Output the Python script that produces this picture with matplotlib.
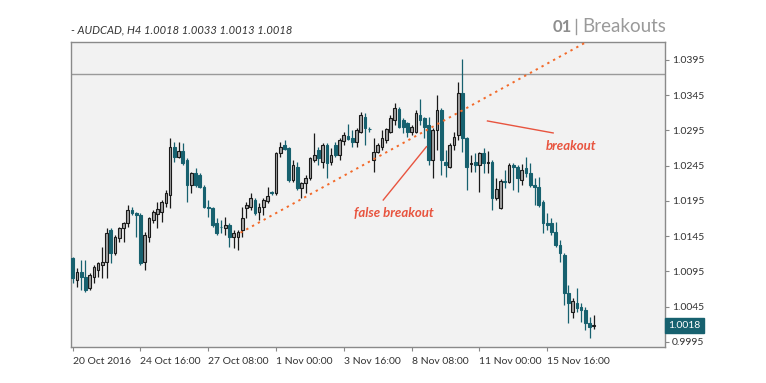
import numpy as np
import matplotlib.pyplot as plt
from matplotlib.lines import Line2D
import matplotlib.transforms as mtransforms

# H4 candles, 20 Oct 2016 onward
opens = [1.01137, 1.00830, 1.00948, 1.00877, 1.00711, 1.00877, 1.00971, 1.01042, 1.01090, 1.01539,
         1.01208, 1.01421, 1.01562, 1.01633, 1.01822, 1.01785, 1.01751, 1.01090, 1.01444, 1.01681,
         1.01761, 1.01799, 1.01917, 1.02035, 1.02721, 1.02579, 1.02664, 1.02532, 1.02177, 1.02343,
         1.02319, 1.02153, 1.01870, 1.01846, 1.01633, 1.01586, 1.01562, 1.01610, 1.01444, 1.01444,
         1.01539, 1.01846, 1.01870, 1.01964, 1.01799, 1.01870, 1.01955, 1.02075, 1.02059, 1.02626,
         1.02744, 1.02697, 1.02248, 1.02437, 1.02130, 1.02201, 1.02272, 1.02532, 1.02673, 1.02508,
         1.02744, 1.02508, 1.02744, 1.02603, 1.02806, 1.02872, 1.02839, 1.02792, 1.02934, 1.03146,
         1.02976, 1.02532, 1.02650, 1.02721, 1.02815, 1.02934, 1.03099, 1.03250, 1.03099, 1.03052,
         1.02934, 1.02934, 1.03170, 1.03123, 1.03028, 1.02532, 1.02957, 1.03241, 1.02508, 1.02437,
         1.02744, 1.02886, 1.03477, 1.02839, 1.02475, 1.02508, 1.02461, 1.02636, 1.02494, 1.02508,
         1.01988, 1.01846, 1.02238, 1.02224, 1.02461, 1.02437, 1.02248, 1.02413, 1.02342, 1.02177,
         1.02153, 1.01941, 1.01633, 1.01633, 1.01515, 1.01326, 1.01184, 1.00641, 1.00380, 1.00498,
         1.00451, 1.00404, 1.00215, 1.00180]
highs = [1.01160, 1.00995, 1.01113, 1.01113, 1.00924, 1.01042, 1.01090, 1.01302, 1.01562, 1.01562,
         1.01468, 1.01586, 1.01657, 1.01893, 1.01870, 1.01799, 1.01775, 1.01515, 1.01728, 1.01822,
         1.01941, 1.01964, 1.02106, 1.02839, 1.02792, 1.02792, 1.02768, 1.02555, 1.02366, 1.02413,
         1.02343, 1.02177, 1.01964, 1.01870, 1.01704, 1.01681, 1.01728, 1.01633, 1.01539, 1.01539,
         1.01870, 1.01941, 1.02059, 1.01988, 1.01917, 1.01988, 1.02153, 1.02097, 1.02650, 1.02792,
         1.02815, 1.02721, 1.02532, 1.02508, 1.02224, 1.02319, 1.02579, 1.02910, 1.02721, 1.02768,
         1.02768, 1.02697, 1.02792, 1.02839, 1.02934, 1.03042, 1.02957, 1.02981, 1.03217, 1.03194,
         1.03005, 1.02839, 1.02768, 1.02957, 1.02981, 1.03170, 1.03335, 1.03288, 1.03123, 1.03075,
         1.03028, 1.03241, 1.03392, 1.03146, 1.03146, 1.02981, 1.03454, 1.03264, 1.02673, 1.02768,
         1.02934, 1.03643, 1.03959, 1.02863, 1.02603, 1.02626, 1.02650, 1.02697, 1.02664, 1.02532,
         1.02272, 1.02257, 1.02390, 1.02484, 1.02494, 1.02461, 1.02470, 1.02579, 1.02484, 1.02272,
         1.02295, 1.01964, 1.01775, 1.01704, 1.01657, 1.01397, 1.01208, 1.00759, 1.00570, 1.00712,
         1.00498, 1.00451, 1.00309, 1.00330]
lows = [1.00782, 1.00735, 1.00688, 1.00664, 1.00688, 1.00782, 1.00877, 1.00853, 1.00853, 1.01066,
        1.01184, 1.01373, 1.01373, 1.01586, 1.01751, 1.01444, 1.01042, 1.00971, 1.01373, 1.01633,
        1.01562, 1.01657, 1.01870, 1.01846, 1.02508, 1.02555, 1.02461, 1.01941, 1.02059, 1.02153,
        1.02130, 1.01846, 1.01728, 1.01586, 1.01468, 1.01492, 1.01468, 1.01303, 1.01279, 1.01255,
        1.01444, 1.01704, 1.01822, 1.01752, 1.01681, 1.01752, 1.01917, 1.02035, 1.02035, 1.02579,
        1.02673, 1.02224, 1.02224, 1.02106, 1.01988, 1.02059, 1.02248, 1.02508, 1.02461, 1.02414,
        1.02272, 1.02461, 1.02579, 1.02532, 1.02744, 1.02815, 1.02721, 1.02721, 1.02910, 1.02744,
        1.02934, 1.02366, 1.02626, 1.02673, 1.02768, 1.02919, 1.03028, 1.02981, 1.02910, 1.02863,
        1.02886, 1.02910, 1.03028, 1.02839, 1.02461, 1.02272, 1.02673, 1.02319, 1.02295, 1.02413,
        1.02673, 1.02815, 1.02650, 1.02106, 1.02366, 1.02366, 1.02082, 1.02342, 1.02342, 1.01822,
        1.01964, 1.01832, 1.02130, 1.02201, 1.02106, 1.02082, 1.02177, 1.02295, 1.02153, 1.01893,
        1.01870, 1.01492, 1.01539, 1.01468, 1.01302, 1.01090, 1.00475, 1.00215, 1.00286, 1.00380,
        1.00238, 1.00120, 1.00002, 1.00130]
closes = [1.00853, 1.00948, 1.00877, 1.00688, 1.00900, 1.01019, 1.01066, 1.01090, 1.01491, 1.01208,
          1.01444, 1.01562, 1.01633, 1.01822, 1.01775, 1.01751, 1.01066, 1.01468, 1.01704, 1.01799,
          1.01832, 1.01941, 1.02059, 1.02721, 1.02579, 1.02664, 1.02484, 1.02177, 1.02343, 1.02177,
          1.02153, 1.01870, 1.01855, 1.01610, 1.01492, 1.01577, 1.01610, 1.01444, 1.01501, 1.01515,
          1.01704, 1.01894, 1.01988, 1.01775, 1.01870, 1.01964, 1.02021, 1.02062, 1.02626, 1.02721,
          1.02683, 1.02248, 1.02461, 1.02130, 1.02201, 1.02272, 1.02555, 1.02603, 1.02555, 1.02744,
          1.02485, 1.02603, 1.02603, 1.02815, 1.02886, 1.02825, 1.02792, 1.02957, 1.03170, 1.02981,
          1.02967, 1.02650, 1.02744, 1.02839, 1.02967, 1.03123, 1.03264, 1.03005, 1.03005, 1.02934,
          1.02995, 1.03194, 1.03099, 1.03005, 1.02532, 1.02957, 1.03241, 1.02532, 1.02461, 1.02744,
          1.02863, 1.03477, 1.02839, 1.02437, 1.02490, 1.02461, 1.02626, 1.02484, 1.02503, 1.01988,
          1.02115, 1.02238, 1.02219, 1.02461, 1.02437, 1.02272, 1.02390, 1.02342, 1.02177, 1.02153,
          1.01893, 1.01633, 1.01610, 1.01515, 1.01326, 1.01208, 1.00641, 1.00498, 1.00536, 1.00428,
          1.00404, 1.00215, 1.00167, 1.00180]

tick_idx = [0, 16, 32, 48, 64, 80, 96, 112]
tick_labels = ['20 Oct 2016', '24 Oct 16:00', '27 Oct 08:00', '1 Nov 00:00',
               '3 Nov 16:00', '8 Nov 08:00', '11 Nov 00:00', '15 Nov 16:00']
price_ticks = [0.9995, 1.0045, 1.0095, 1.0145, 1.0195, 1.0245, 1.0295, 1.0345, 1.0395]

resistance = 1.03756
last_price = 1.0018
trend_x = [39.6, 121.4]
trend_y = [1.0150, 1.0421]
false_line_x = [73.3, 83.5]
false_line_y = [1.01964, 1.02720]
break_line_x = [97.9, 113.4]
break_line_y = [1.03085, 1.02915]

TEAL = '#17616f'
RED = '#e8543f'

plt.rcParams['font.family'] = ['Lato', 'DejaVu Sans']

fig = plt.figure(figsize=(7.66, 3.83), dpi=100)
ax = fig.add_axes([71 / 766, 36 / 383, 594 / 766, 305 / 383])
ax.set_facecolor('#f2f2f2')

o = np.array(opens)
h = np.array(highs)
l = np.array(lows)
c = np.array(closes)
x = np.arange(len(o))
up = c >= o

ax.vlines(x[up], l[up], h[up], color='#1a1a1a', lw=0.9, zorder=2)
ax.vlines(x[~up], l[~up], h[~up], color=TEAL, lw=0.9, zorder=2)
body_lo = np.minimum(o, c)
body_h = np.maximum(np.abs(c - o), 0.00008)
ax.bar(x[up], body_h[up], bottom=body_lo[up], width=0.64, color='#a3a3a3',
       edgecolor='#1a1a1a', linewidth=0.8, zorder=3)
ax.bar(x[~up], body_h[~up], bottom=body_lo[~up], width=0.64, color=TEAL,
       edgecolor=TEAL, linewidth=0.8, zorder=3)

ax.axhline(resistance, color='#9a9a9a', lw=1.0, zorder=1)
ax.plot(trend_x, trend_y, color='#f26a2a', lw=1.4, ls=(0, (1.2, 2.2)), zorder=4)
ax.plot(false_line_x, false_line_y, color=RED, lw=1.0, zorder=4)
ax.plot(break_line_x, break_line_y, color=RED, lw=1.0, zorder=4)
ax.text(75.7, 1.0178, 'false breakout', color=RED, style='italic', fontsize=9.5,
        fontweight='bold', ha='center', va='center')
ax.text(117.7, 1.0273, 'breakout', color=RED, style='italic', fontsize=9.5,
        fontweight='bold', ha='center', va='center')

ax.set_xlim(-0.4, 139.8)
ax.set_ylim(0.99879, 1.04205)

ax.yaxis.tick_right()
ax.set_yticks(price_ticks)
ax.set_yticklabels([f'{v:.4f}' for v in price_ticks])
ax.set_xticks(tick_idx)
ax.set_xticklabels(tick_labels, ha='left')
ax.tick_params(axis='both', length=3, width=0.8, color='#888888',
               labelsize=7.5, labelcolor='#333333', pad=2)
ax.tick_params(axis='x', pad=4)
for s in ax.spines.values():
    s.set_color('#8a8a8a')
    s.set_linewidth(1.0)

# current price tag
trans = mtransforms.blended_transform_factory(ax.transAxes, ax.transData)
ax.text(1.006, last_price, f'{last_price:.4f}', transform=trans, color='white',
        fontsize=7.5, va='center', ha='left', clip_on=False, zorder=6,
        bbox=dict(boxstyle='square,pad=0.3', fc=TEAL, ec=TEAL))

fig.text(71 / 766, 1 - 30 / 383, '- AUDCAD, H4 1.0018 1.0033 1.0013 1.0018',
         style='italic', fontsize=8, color='#333333', va='center', ha='left')
fig.text(553 / 766, 1 - 27 / 383, '01', fontsize=12, fontweight='bold',
         color='#8e8e8e', va='center', ha='left')
fig.add_artist(Line2D([576 / 766, 576 / 766], [1 - 19 / 383, 1 - 34 / 383],
                      color='#9a9a9a', lw=1.0))
fig.text(582 / 766, 1 - 27 / 383, 'Breakouts', fontsize=13.5,
         color='#9a9a9a', va='center', ha='left')

fig.savefig('out.png', dpi=100, facecolor='white')
